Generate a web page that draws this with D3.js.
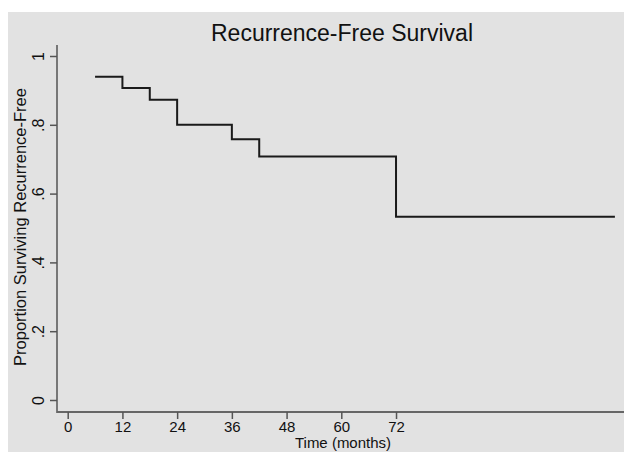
<!DOCTYPE html>
<html>
<head>
<meta charset="utf-8">
<script src="https://cdn.jsdelivr.net/npm/d3@7"></script>
<style>
  html, body { margin: 0; padding: 0; background: #ffffff; }
  svg { display: block; }
  text { font-family: "Liberation Sans", Arial, Helvetica, sans-serif; fill: #111; }
</style>
</head>
<body>
<svg id="chart" width="624" height="452"></svg>
<script>
// ---- data ----
const times = [6, 12, 18, 24, 36, 42, 72, 120];
const survival = [0.940, 0.907, 0.873, 0.800, 0.758, 0.708, 0.533, 0.533];
const xTicks = [0, 12, 24, 36, 48, 60, 72];
const yTicks = [0, 0.2, 0.4, 0.6, 0.8, 1];
const yTickLabels = ["0", ".2", ".4", ".6", ".8", "1"];
const titleText = "Recurrence-Free Survival";
const xTitle = "Time (months)";
const yTitle = "Proportion Surviving Recurrence-Free";

const svg = d3.select("#chart");
const W = 624, H = 452;

// background panel
svg.append("rect").attr("x", 8).attr("y", 12).attr("width", W - 8).attr("height", H - 12)
  .attr("fill", "#e2e2e2");

const x = d3.scaleLinear().domain([0, 120]).range([67.7, 614.9]);
const y = d3.scaleLinear().domain([0, 1]).range([400, 56]);

const axisX = 57, axisY = 412;

// axis lines
svg.append("line").attr("x1", axisX).attr("x2", axisX).attr("y1", 45).attr("y2", axisY + 1)
  .attr("stroke", "#777").attr("stroke-width", 2);
svg.append("line").attr("x1", axisX).attr("x2", W).attr("y1", axisY).attr("y2", axisY)
  .attr("stroke", "#666").attr("stroke-width", 2);

// y axis
const gy = svg.append("g").attr("transform", `translate(${axisX},0)`)
  .call(d3.axisLeft(y).tickValues(yTicks).tickSize(7).tickSizeOuter(0)
    .tickFormat((d, i) => yTickLabels[i]));
gy.select(".domain").remove();
gy.selectAll(".tick line").attr("stroke", "#555").attr("stroke-width", 1.5);
gy.selectAll(".tick text")
  .attr("transform", "rotate(-90)")
  .attr("x", 0).attr("y", -13).attr("dy", 0)
  .attr("text-anchor", "middle")
  .style("font-size", "16px").style("font-family", "'Liberation Sans', Arial, sans-serif")
  .attr("fill", "#111");

// x axis
const gx = svg.append("g").attr("transform", `translate(0,${axisY})`)
  .call(d3.axisBottom(x).tickValues(xTicks).tickSize(7).tickSizeOuter(0)
    .tickFormat(d3.format("d")));
gx.select(".domain").remove();
gx.selectAll(".tick line").attr("stroke", "#555").attr("stroke-width", 1.5);
gx.selectAll(".tick text")
  .attr("y", 19.5).attr("dy", 0)
  .style("font-size", "15px").style("font-family", "'Liberation Sans', Arial, sans-serif")
  .attr("fill", "#111");

// step curve
const pts = times.map((t, i) => [t, survival[i]]);
const line = d3.line().x(d => x(d[0])).y(d => y(d[1])).curve(d3.curveStepAfter);
svg.append("path").datum(pts).attr("d", line)
  .attr("fill", "none").attr("stroke", "#1a1a1a").attr("stroke-width", 2);

// titles
svg.append("text").attr("x", 342).attr("y", 41).attr("text-anchor", "middle")
  .style("font-size", "23px").text(titleText);
svg.append("text").attr("x", 343).attr("y", 447.5).attr("text-anchor", "middle")
  .style("font-size", "15px").text(xTitle);
svg.append("text").attr("transform", "translate(26,227) rotate(-90)").attr("text-anchor", "middle")
  .style("font-size", "16.5px").text(yTitle);
</script>
</body>
</html>
